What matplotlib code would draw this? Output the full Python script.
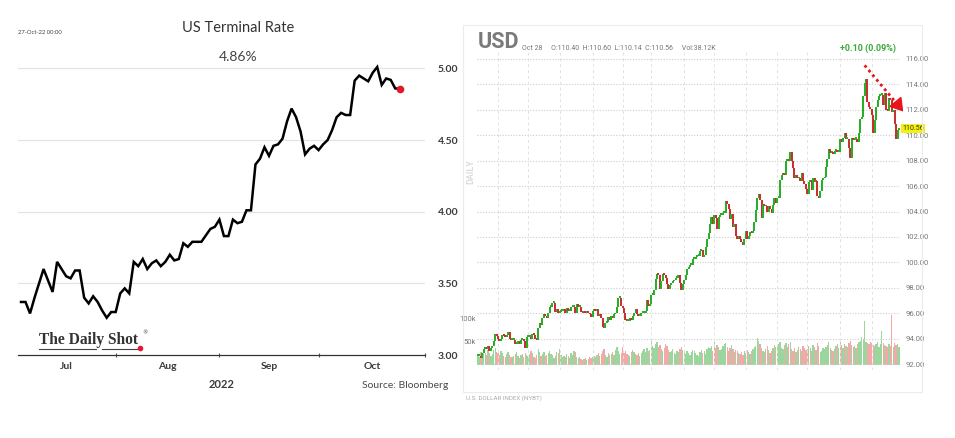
import numpy as np
import matplotlib
matplotlib.use('Agg')
import matplotlib.pyplot as plt
from matplotlib.lines import Line2D
from matplotlib.patches import Rectangle
import matplotlib.transforms as mtransforms

# left panel: US terminal rate, business days Jul 1 .. Oct 27 2022
rate_jul = [3.37, 3.37, 3.29, 3.40, 3.50, 3.60, 3.52, 3.44, 3.65, 3.60, 3.55,
            3.535, 3.59, 3.59, 3.40, 3.36, 3.41, 3.37, 3.31, 3.26, 3.30]
rate_aug = [3.30, 3.43, 3.465, 3.43, 3.65, 3.62, 3.67, 3.60, 3.64, 3.66, 3.62,
            3.65, 3.70, 3.66, 3.67, 3.78, 3.755, 3.79, 3.79, 3.79, 3.835, 3.88, 3.895]
rate_sep = [3.945, 3.83, 3.83, 3.945, 3.92, 3.93, 4.01, 4.01, 4.33, 4.37, 4.45,
            4.39, 4.46, 4.47, 4.51, 4.63, 4.72, 4.66, 4.56, 4.40, 4.44, 4.46]
rate_oct = [4.43, 4.47, 4.50, 4.57, 4.66, 4.69, 4.675, 4.675, 4.915, 4.95, 4.93,
            4.91, 4.97, 5.01, 4.885, 4.93, 4.92, 4.86, 4.86]
rate_month_names = ['Jul', 'Aug', 'Sep', 'Oct']
rate_yticks = [3.00, 3.50, 4.00, 4.50, 5.00]

# right panel: USD index daily closes, Sep 13 2021 .. Oct 28 2022
usd_sep21 = [92.6, 92.6, 92.5, 92.9, 93.2, 93.3, 93.2, 93.4, 93.0, 93.3, 93.4, 93.8, 94.4, 94.2]
usd_oct21 = [94.0, 93.8, 94.0, 94.3, 94.2, 94.1, 94.3, 94.5, 94.0, 93.9, 93.9, 93.9, 93.6,
             93.6, 93.8, 93.6, 93.9, 93.9, 93.8, 93.3, 94.1]
usd_nov21 = [94.1, 94.1, 94.0, 94.4, 94.3, 94.0, 93.9, 94.8, 95.2, 95.1, 95.6, 95.9, 95.8,
             95.6, 96.0, 96.5, 96.5, 96.8, 96.8, 96.1, 96.3, 96.0]
usd_dec21 = [96.1, 96.2, 96.2, 96.3, 96.0, 96.4, 96.2, 96.2, 96.5, 96.5, 96.5, 96.0, 96.7,
             96.5, 96.5, 96.1, 96.0, 96.1, 96.0, 96.2, 96.0, 95.9, 95.7]
usd_jan22 = [96.2, 96.3, 96.2, 96.3, 95.8, 95.9, 95.6, 94.9, 94.8, 95.2, 95.3, 95.7, 95.5,
             95.8, 95.6, 95.9, 96.0, 96.5, 97.2, 97.2, 96.6]
usd_feb22 = [96.4, 96.0, 95.5, 95.4, 95.4, 95.6, 95.5, 95.8, 96.0, 96.3, 95.9, 95.8, 95.8,
             96.0, 96.0, 96.0, 96.2, 97.0, 96.6, 96.7]
usd_mar22 = [97.4, 97.4, 97.8, 98.7, 99.1, 99.0, 97.9, 98.5, 99.1, 99.0, 98.8, 98.3, 97.9,
             98.2, 98.4, 98.5, 98.6, 98.8, 98.8, 99.0, 98.4, 97.8, 98.3]
usd_apr22 = [98.6, 99.0, 99.5, 99.6, 99.8, 99.8, 100.3, 100.3, 100.4, 100.5, 100.5, 100.9,
             101.0, 100.4, 100.6, 101.2, 101.8, 102.3, 103.0, 103.6, 103.0]
usd_may22 = [103.7, 103.5, 102.6, 103.6, 103.7, 103.7, 103.9, 103.9, 104.8, 104.6, 104.2,
             103.4, 103.8, 102.8, 103.0, 102.1, 101.8, 102.1, 101.8, 101.6, 101.4, 101.8]
usd_jun22 = [102.5, 101.8, 102.1, 102.4, 102.3, 102.5, 103.2, 104.1, 105.1, 105.4, 104.9,
             103.5, 104.6, 104.4, 104.4, 104.0, 104.4, 104.2, 103.9, 104.5, 105.1, 104.7]
usd_jul22 = [105.1, 105.1, 106.5, 106.9, 107.0, 106.9, 108.0, 108.1, 108.0, 108.7, 108.0,
             107.4, 106.6, 106.9, 106.6, 106.6, 106.4, 107.0, 106.4, 106.2, 105.8]
usd_aug22 = [105.4, 106.3, 106.5, 105.7, 106.6, 106.3, 106.4, 105.2, 105.1, 105.6, 106.5,
             106.6, 106.7, 107.5, 108.1, 108.9, 108.6, 108.6, 108.5, 108.8, 108.8, 108.7, 108.7]
usd_sep22 = [109.7, 109.5, 109.8, 110.2, 109.7, 109.7, 109.0, 108.2, 109.8, 109.6, 109.7,
             109.7, 109.5, 110.2, 111.3, 111.4, 113.1, 114.1, 114.4, 112.6, 112.2, 112.1]
usd_oct22 = [111.6, 110.2, 111.2, 112.2, 112.8, 113.1, 113.2, 113.2, 112.4, 113.3, 112.0,
             111.9, 112.9, 112.8, 111.8, 112.0, 110.9, 109.7, 110.4, 110.56]

# volume, thousands
vol_sep21 = [22, 18, 27, 24, 30, 26, 21, 33, 25, 19, 24, 31, 36, 28]
vol_oct21 = [26, 22, 30, 25, 19, 17, 24, 28, 22, 18, 16, 20, 23, 27, 19, 15, 21, 24, 18, 26, 22]
vol_nov21 = [20, 24, 30, 26, 18, 15, 22, 34, 28, 20, 24, 27, 19, 22, 26, 30, 23, 21, 14, 19, 28, 25]
vol_dec21 = [34, 22, 18, 20, 16, 24, 19, 15, 26, 22, 30, 28, 18, 14, 17, 12, 10, 13, 15, 11, 12, 16, 14]
vol_jan22 = [16, 20, 18, 22, 25, 19, 24, 30, 34, 22, 18, 26, 21, 24, 28, 22, 32, 38, 30, 24, 26]
vol_feb22 = [38, 26, 30, 24, 22, 20, 27, 33, 28, 24, 22, 26, 20, 25, 30, 34, 28, 36, 30, 32]
vol_mar22 = [51, 40, 36, 44, 48, 38, 42, 34, 30, 36, 44, 40, 32, 28, 30, 34, 26, 24, 30, 28, 34, 38, 32]
vol_apr22 = [28, 24, 30, 26, 22, 27, 33, 30, 25, 22, 20, 28, 32, 26, 30, 24, 34, 38, 36, 40, 30]
vol_may22 = [48, 36, 42, 38, 32, 34, 40, 44, 46, 38, 30, 36, 42, 34, 28, 32, 30, 26, 24, 28, 22, 30]
vol_jun22 = [26, 32, 28, 24, 30, 34, 38, 40, 58, 52, 44, 36, 30, 28, 34, 40, 32, 26, 30, 36, 42, 38]
vol_jul22 = [40, 44, 48, 36, 34, 42, 46, 38, 44, 50, 34, 30, 36, 28, 32, 38, 34, 30, 40, 36, 32]
vol_aug22 = [34, 40, 36, 30, 42, 38, 32, 46, 40, 28, 30, 36, 34, 38, 42, 48, 36, 32, 30, 34, 40, 44, 36]
vol_sep22 = [48, 42, 36, 44, 40, 38, 46, 52, 42, 38, 40, 36, 44, 48, 51, 60, 56, 94, 50, 46, 44, 48]
vol_oct22 = [46, 42, 40, 44, 48, 38, 44, 72, 46, 42, 40, 38, 44, 40, 106, 38, 46, 42, 44, 38.12]

usd_month_names = ['Oct', 'Nov', 'Dec', '2022', 'Feb', 'Mar', 'Apr', 'May',
                   'Jun', 'Jul', 'Aug', 'Sep', 'Oct']
usd_yticks = [92, 94, 96, 98, 100, 102, 104, 106, 108, 110, 112, 114, 116]

W, H = 955.0, 438.0
def fx(px):
    return px / W
def fy(py):
    return 1 - py / H

fig = plt.figure(figsize=(9.55, 4.38), dpi=100)
fig.patch.set_facecolor('white')

SANS = ['Lato', 'DejaVu Sans']
NARROW = ['Liberation Sans Narrow', 'Roboto', 'DejaVu Sans']

# ---------------- left: US Terminal Rate ----------------
rate_parts = [rate_jul, rate_aug, rate_sep, rate_oct]
rate = np.concatenate(rate_parts)
ax1 = fig.add_axes([fx(18), fy(355), fx(425 - 18), (355 - 62) / H])
xr = np.arange(len(rate))
ax1.plot(xr, rate, color='black', lw=1.8, solid_joinstyle='miter')
ax1.plot(xr[-1], rate[-1], 'o', color='#e3172b', ms=4.5, zorder=5)

x_left, x_right = -0.67, 89.6
ax1.set_xlim(x_left, x_right)
ax1.set_ylim(3.0, 5.045)
for s in ['top', 'left', 'right']:
    ax1.spines[s].set_visible(False)
ax1.spines['bottom'].set_color('#333333')
ax1.spines['bottom'].set_linewidth(0.9)
ax1.yaxis.tick_right()
ax1.set_yticks(rate_yticks)
ax1.set_yticklabels(['%.2f' % v for v in rate_yticks], fontsize=7.5,
                    fontweight='bold', color='#3a3a3a', family=SANS)
ax1.tick_params(axis='y', length=0, pad=9)
for v in rate_yticks[1:]:
    ax1.axhline(v, color='#e4e4e4', lw=0.9, zorder=0)

starts = np.cumsum([0] + [len(p) for p in rate_parts])
edges = [x_left] + list(starts[1:-1]) + [x_right]
ax1.set_xticks(list(starts[1:-1]) + [x_right])
ax1.set_xticklabels([])
ax1.tick_params(axis='x', length=3, direction='inout', color='#555555', width=0.8)
centers = [(edges[i] + edges[i + 1]) / 2 for i in range(len(rate_month_names))]
ax1.set_xticks(centers, minor=True)
ax1.set_xticklabels(rate_month_names, minor=True, fontsize=7.5, fontweight='bold',
                    color='#3a3a3a', family=SANS)
ax1.tick_params(axis='x', which='minor', length=0, pad=5)

fig.text(fx(238), fy(28), 'US Terminal Rate', ha='center', va='center',
         fontsize=10.5, color='#333333', family=SANS)
fig.text(fx(238), fy(57), '4.86%', ha='center', va='center',
         fontsize=10, color='#444444', family=SANS)
fig.text(fx(18), fy(33), '27-Oct-22 00:00', ha='left', va='center',
         fontsize=4.2, color='#444444', family=SANS)
fig.text(fx(222), fy(385), '2022', ha='center', va='center', fontsize=8,
         fontweight='bold', color='#3a3a3a', family=SANS)
fig.text(fx(448), fy(386), 'Source: Bloomberg', ha='right', va='center',
         fontsize=7.5, color='#4a4a4a', family=SANS)

# logo
fig.text(fx(39), fy(340), 'The Daily Shot', ha='left', va='center', fontsize=11.2,
         fontweight='bold', color='#333333', family=['Liberation Serif', 'DejaVu Serif'])
fig.text(fx(142.5), fy(333), '®', ha='left', va='center', fontsize=3.8, color='#333333')
fig.lines.append(Line2D([fx(39), fx(96)], [fy(348.5), fy(348.5)],
                        transform=fig.transFigure, color='#444444', lw=0.8))
fig.lines.append(Line2D([fx(102), fx(138)], [fy(348.5), fy(348.5)],
                        transform=fig.transFigure, color='#444444', lw=0.8))
fig.lines.append(Line2D([fx(140)], [fy(348)], transform=fig.transFigure, marker='o',
                        ms=3, color='#e3172b', lw=0))

# ---------------- right: USD candles ----------------
usd_parts = [usd_sep21, usd_oct21, usd_nov21, usd_dec21, usd_jan22, usd_feb22, usd_mar22,
             usd_apr22, usd_may22, usd_jun22, usd_jul22, usd_aug22, usd_sep22, usd_oct22]
vol_parts = [vol_sep21, vol_oct21, vol_nov21, vol_dec21, vol_jan22, vol_feb22, vol_mar22,
             vol_apr22, vol_may22, vol_jun22, vol_jul22, vol_aug22, vol_sep22, vol_oct22]
close = np.concatenate(usd_parts)
vol = np.concatenate(vol_parts)
n = len(close)
idx = np.arange(n)
opens = np.r_[close[0], close[:-1]]
up = close >= opens
lo = np.minimum(opens, close)
hi = np.maximum(np.maximum(opens, close), lo + 0.15)

fig.patches.append(Rectangle((fx(463), fy(392)), fx(922 - 463), (392 - 25) / H,
                             transform=fig.transFigure, fill=False,
                             ec='#ececec', lw=0.8))

ax = fig.add_axes([fx(477.3), fy(370), fx(899.7 - 477.3), (370 - 52) / H])
axv = ax.twinx()
ax.set_zorder(axv.get_zorder() + 1)
ax.patch.set_visible(False)

green, red = '#2aae2a', '#c93030'
ax.vlines(idx, lo, hi, colors=np.where(up, green, red), lw=1.45, zorder=3)
axv.bar(idx, vol, width=0.9, color=np.where(up, '#9cd69c', '#f3a9a9'), lw=0)

ax.set_xlim(-0.5, n - 0.5)
ax.set_ylim(91.53, 116.55)
axv.set_ylim(-10.6, 666)
for a in (ax, axv):
    for s in a.spines.values():
        s.set_visible(False)

ax.yaxis.tick_right()
ax.set_yticks(usd_yticks)
ax.set_yticklabels(['%.2f' % v for v in usd_yticks], fontsize=5.5, color='#777777',
                   family=NARROW)
ax.tick_params(axis='y', length=0, pad=4)
for v in usd_yticks:
    ax.axhline(v, color='#cccccc', lw=0.8, ls=(0, (1, 1.5)), zorder=0)

mstarts = np.cumsum([len(p) for p in usd_parts])[:-1]
ax.set_xticks(mstarts)
ax.set_xticklabels(usd_month_names, fontsize=5.5, color='#777777', family=NARROW)
ax.tick_params(axis='x', length=0, pad=4)
for m in mstarts:
    ax.axvline(m, color='#e2e2e2', lw=0.7, ls=(0, (3, 3)), zorder=0)

axv.yaxis.tick_left()
axv.set_yticks([50, 100])
axv.set_yticklabels(['50k', '100k'], fontsize=5.5, color='#777777', family=NARROW)
axv.tick_params(axis='y', length=0, pad=1)
axv.set_xticks([])

# last price tag
trans = mtransforms.blended_transform_factory(ax.transAxes, ax.transData)
ax.text(1.006, close[-1], '%.2f' % close[-1], transform=trans, ha='left', va='center',
        fontsize=5, color='#333333', family=NARROW, zorder=6,
        bbox=dict(boxstyle='square,pad=0.15', fc='#f2f20a', ec='none'))

# downward arrow from the peak
pk = int(np.argmax(close))
x0, y0 = pk - 1, close[pk] + 1.1
xt, yt = n + 2, close[-1] + 1.3
xb, yb = xt - 4.9, yt + 0.68
ax.plot([x0, xb], [y0, yb], color='#e8141c', lw=2, ls=(0, (1, 1.2)),
        clip_on=False, zorder=7)
ax.annotate('', xy=(xt, yt), xytext=(xb, yb), annotation_clip=False,
            arrowprops=dict(arrowstyle='-|>,head_length=0.8,head_width=0.5',
                            color='#e8141c', lw=1.0, mutation_scale=10,
                            shrinkA=0, shrinkB=0), zorder=7)

fig.text(fx(478), fy(42), 'USD', ha='left', va='center', fontsize=15.5,
         fontweight='bold', color='#7a7a7a', family=NARROW)
fig.text(fx(522), fy(48), 'Oct 28     O:110.40  H:110.60  L:110.14  C:110.56     Vol:38.12K',
         ha='left', va='center', fontsize=5, color='#777777', family=NARROW)
fig.text(fx(896), fy(48), '+0.10 (0.09%)', ha='right', va='center', fontsize=6.5,
         fontweight='bold', color='#3aa83a', family=NARROW)
fig.text(fx(471), fy(172), 'DAILY', ha='center', va='center', rotation=90,
         fontsize=6.5, fontweight='bold', color='#dcdcdc', family=NARROW)
fig.text(fx(466), fy(398), 'U.S. DOLLAR INDEX (NYBT)', ha='left', va='center',
         fontsize=4.5, color='#aaaaaa', family=NARROW)

fig.savefig('out.png', dpi=100, facecolor='white')
